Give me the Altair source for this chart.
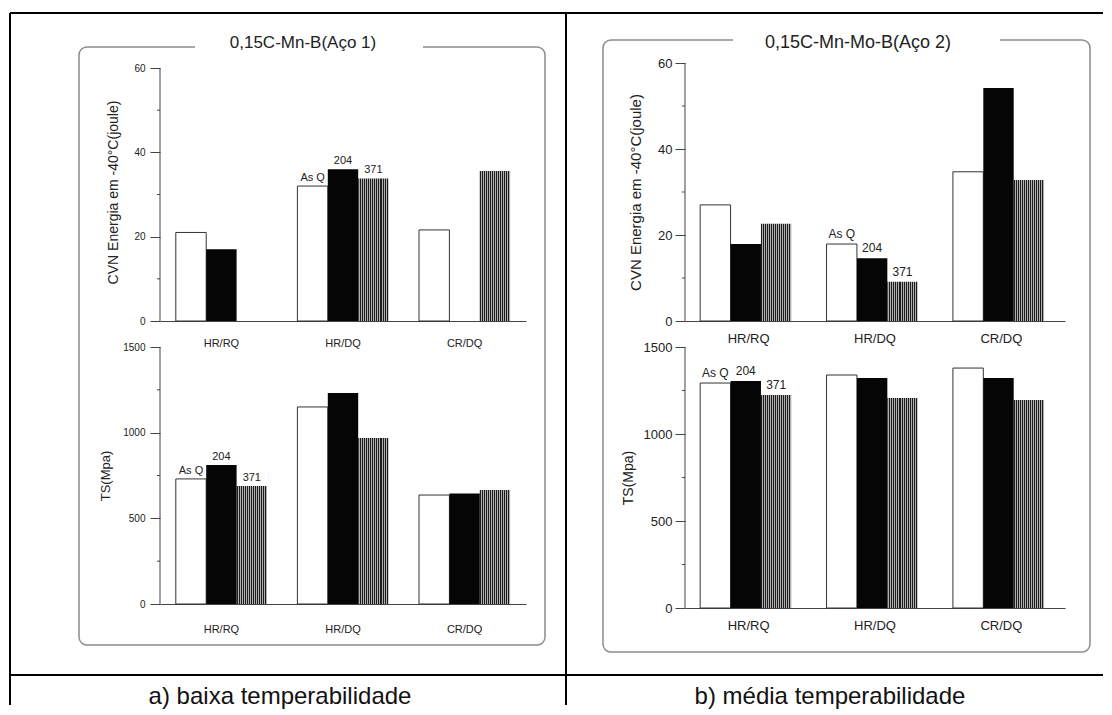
import altair as alt
import pandas as pd

categories = ["HR/RQ", "HR/DQ", "CR/DQ"]
series = ["As Q", "204", "371"]

# Aço 1 (baixa temperabilidade)
aco1_cvn_asq = [21.0, 32.0, 21.6]
aco1_cvn_204 = [17.0, 36.0, None]
aco1_cvn_371 = [None, 33.8, 35.6]
aco1_ts_asq = [730, 1150, 636]
aco1_ts_204 = [811, 1231, 645]
aco1_ts_371 = [689, 969, 665]

# Aço 2 (média temperabilidade)
aco2_cvn_asq = [27.0, 17.9, 34.7]
aco2_cvn_204 = [17.9, 14.6, 54.2]
aco2_cvn_371 = [22.6, 9.1, 32.8]
aco2_ts_asq = [1293, 1339, 1379]
aco2_ts_204 = [1305, 1322, 1322]
aco2_ts_371 = [1224, 1207, 1195]

cvn_ticks = [0, 20, 40, 60]
cvn_minor = [10, 30, 50]
ts_ticks = [0, 500, 1000, 1500]
ts_minor = [250, 750, 1250]

titles = ["0,15C-Mn-B(Aço 1)", "0,15C-Mn-Mo-B(Aço 2)"]
captions = ["a) baixa temperabilidade", "b) média temperabilidade"]
cvn_title = "CVN Energia em -40°C(joule)"
ts_title = "TS(Mpa)"

FONT = "Liberation Sans"

# checker-like fill (fine stripes)
stops = []
n_per = 15
for k in range(n_per):
    a = k / n_per
    b = (k + 0.5) / n_per
    c = (k + 1) / n_per
    stops += [
        alt.GradientStop(offset=a, color="#1c1c1c"),
        alt.GradientStop(offset=b, color="#1c1c1c"),
        alt.GradientStop(offset=b, color="#b0b0b0"),
        alt.GradientStop(offset=c, color="#b0b0b0"),
    ]
checker = alt.LinearGradient(gradient="linear", stops=stops, x1=0, x2=1, y1=0, y2=0)


def make_df(asq, s204, s371):
    rows = []
    for i, c in enumerate(categories):
        for s, vals in zip(series, [asq, s204, s371]):
            if vals[i] is not None:
                rows.append({"cat": c, "serie": s, "val": vals[i]})
    return pd.DataFrame(rows)


def one():
    return alt.Data(values=[{"d": 1}])


def hrule(x1, x2, y, color="black", w=2):
    return alt.Chart(one()).mark_rule(color=color, strokeWidth=w).encode(
        x=alt.value(x1), x2=alt.value(x2), y=alt.value(y))


def vrule(x, y1, y2, color="black", w=2):
    return alt.Chart(one()).mark_rule(color=color, strokeWidth=w).encode(
        x=alt.value(x), y=alt.value(y1), y2=alt.value(y2))


def panel(df, width, height, domain, ticks, minor, ytitle, annot_cat,
          pi, po, xfont, yfont, titlefont, xpad, ticksize, labelpad, titlepad,
          annfont, before=None, after=None):
    x_enc = alt.X("cat:N", sort=categories,
                  scale=alt.Scale(domain=categories, paddingInner=pi, paddingOuter=po),
                  axis=alt.Axis(title=None, labelAngle=0, ticks=False, tickSize=0,
                                labelPadding=xpad, labelFontSize=xfont, labelColor="#222222",
                                domainColor="#444444", labelFont=FONT))
    xo_enc = alt.XOffset("serie:N", sort=series,
                         scale=alt.Scale(domain=series, paddingInner=0, paddingOuter=0))
    y_enc = alt.Y("val:Q",
                  scale=alt.Scale(domain=domain, nice=False, zero=True),
                  axis=alt.Axis(values=ticks, format="d", title=ytitle, grid=False, domain=False,
                                tickSize=ticksize, tickColor="#444444", labelPadding=labelpad,
                                labelFontSize=yfont, labelColor="#222222", labelFont=FONT,
                                titleFont=FONT, titleFontSize=titlefont, titleFontWeight="normal",
                                titleColor="#222222", titlePadding=titlepad))
    base = alt.Chart(df).encode(x=x_enc, xOffset=xo_enc, y=y_enc)
    white = base.transform_filter(alt.datum.serie == "As Q").mark_bar(
        fill="white", stroke="#333333", strokeWidth=1)
    black = base.transform_filter(alt.datum.serie == "204").mark_bar(fill="#050505")
    chk = base.transform_filter(alt.datum.serie == "371").mark_bar(fill=checker)
    labels = base.transform_filter(alt.datum.cat == annot_cat).mark_text(
        baseline="bottom", dy=-3, fontSize=annfont, font=FONT, color="#222222"
    ).encode(text="serie:N")
    minor_df = pd.DataFrame({"val": minor})
    minor_rules = alt.Chart(minor_df).mark_rule(color="#444444").encode(
        y=y_enc, x=alt.value(-3), x2=alt.value(0))
    dom_df = pd.DataFrame({"val": [ticks[0]], "val2": [ticks[-1]]})
    dom_rule = alt.Chart(dom_df).mark_rule(color="#444444").encode(
        y=y_enc, y2="val2:Q", x=alt.value(0))
    layers = (before or []) + [white, black, chk, dom_rule, minor_rules, labels] + (after or [])
    return alt.layer(*layers).properties(width=width, height=height)


# decorations for left column (origin = left-top plot origin)
left_before = [
    hrule(-150, 943, -50),
    vrule(-150, -50, 642),
    vrule(406, -50, 642),
    hrule(-150, 943, 612),
    alt.Chart(one()).mark_rect(cornerRadius=8, fillOpacity=0, stroke="#8c8c8c", strokeWidth=1.5).encode(
        x=alt.value(-81), x2=alt.value(385), y=alt.value(-16), y2=alt.value(582)),
]
left_after = [
    alt.Chart(one()).mark_rect(fill="white").encode(
        x=alt.value(35), x2=alt.value(263), y=alt.value(-20), y2=alt.value(-12)),
    alt.Chart(one()).mark_text(text=titles[0], fontSize=17, font=FONT, align="center",
                               baseline="middle", color="#222222").encode(
        x=alt.value(143), y=alt.value(-20)),
    alt.Chart(one()).mark_text(text=captions[0], fontSize=24, font=FONT, align="center",
                               baseline="middle", color="#111111").encode(
        x=alt.value(120), y=alt.value(634)),
    alt.Chart(one()).mark_text(text=captions[1], fontSize=24, font=FONT, align="center",
                               baseline="middle", color="#111111").encode(
        x=alt.value(670), y=alt.value(634)),
]
right_before = [
    alt.Chart(one()).mark_rect(cornerRadius=8, fillOpacity=0, stroke="#8c8c8c", strokeWidth=1.5).encode(
        x=alt.value(-82), x2=alt.value(405), y=alt.value(-23), y2=alt.value(589)),
]
right_after = [
    alt.Chart(one()).mark_rect(fill="white").encode(
        x=alt.value(48), x2=alt.value(315), y=alt.value(-27), y2=alt.value(-19)),
    alt.Chart(one()).mark_text(text=titles[1], fontSize=18, font=FONT, align="center",
                               baseline="middle", color="#222222").encode(
        x=alt.value(173), y=alt.value(-20)),
]

LT = panel(make_df(aco1_cvn_asq, aco1_cvn_204, aco1_cvn_371), 366, 258, [0, 61.19],
           cvn_ticks, cvn_minor, cvn_title, "HR/DQ", 0.25, 0.13, 11, 10, 14, 16, 10, 5, 13, 11,
           before=left_before, after=left_after)
LB = panel(make_df(aco1_ts_asq, aco1_ts_204, aco1_ts_371), 366, 257, [0, 1500],
           ts_ticks, ts_minor, ts_title, "HR/RQ", 0.25, 0.13, 11, 10, 13, 19, 10, 5, 10, 11)
RT = panel(make_df(aco2_cvn_asq, aco2_cvn_204, aco2_cvn_371), 380, 258, [0, 60],
           cvn_ticks, cvn_minor, cvn_title, "HR/DQ", 0.233, 0.12, 13, 13, 15, 11, 10, 3, 14, 12,
           before=right_before, after=right_after)
RB = panel(make_df(aco2_ts_asq, aco2_ts_204, aco2_ts_371), 380, 261, [0, 1500],
           ts_ticks, ts_minor, ts_title, "HR/RQ", 0.233, 0.12, 13, 13, 14, 11, 10, 3, 8, 12)

left_col = alt.vconcat(LT, LB, spacing=26, bounds="flush")
right_col = alt.vconcat(RT, RB, spacing=26, bounds="flush")

chart = alt.hconcat(left_col, right_col, spacing=525, bounds="flush").properties(
    padding={"left": 1, "top": 4, "right": 0, "bottom": 0}
).configure(font=FONT).configure_view(strokeWidth=0, stroke="transparent")

chart.save("out.html", embed_options={"renderer": "svg", "actions": False})
